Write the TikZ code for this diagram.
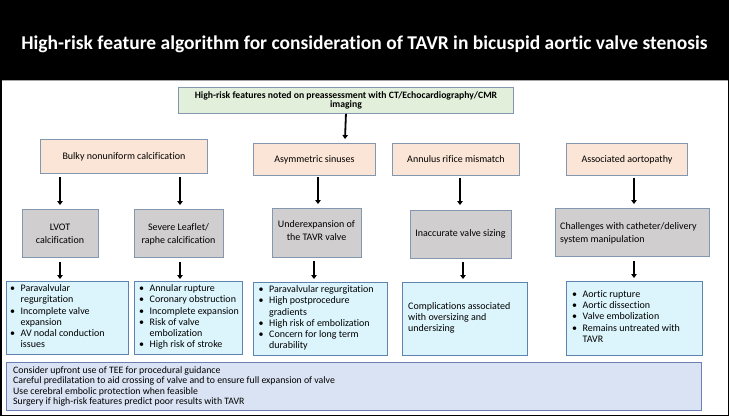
\documentclass[tikz,border=0pt]{standalone}
\usepackage{fontspec}
\setmainfont{Carlito}[Ligatures={NoCommon}]
\usetikzlibrary{arrows.meta}
\definecolor{greenfill}{HTML}{E2EFDA}
\definecolor{orangefill}{HTML}{FBE5D6}
\definecolor{grayfill}{HTML}{D0CECE}
\definecolor{cyanfill}{HTML}{DCF5FC}
\definecolor{lavfill}{HTML}{DAE3F3}
\definecolor{boxline}{HTML}{8497B0}
\definecolor{blueline}{HTML}{5E84AE}
\definecolor{lavline}{HTML}{6C80B5}
\tikzset{
  box/.style={draw=boxline, line width=0.9pt, anchor=north west, inner sep=0pt},
  topbox/.style={box, fill=greenfill},
  featbox/.style={box, fill=orangefill, font=\fontsize{10}{12}\selectfont},
  probbox/.style={box, fill=grayfill},
  compbox/.style={box, draw=blueline, fill=cyanfill},
  listtext/.style={anchor=west, inner sep=0pt, font=\fontsize{10}{11.3}\selectfont, align=left},
  line/.style={inner sep=0pt, anchor=mid, font=\fontsize{10}{12}\selectfont},
  lline/.style={line, anchor=mid west},
  midtext/.style={inner sep=0pt},
  botbox/.style={box, draw=lavline, fill=lavfill},
  flow/.style={line width=1.8pt, -{Triangle[width=5.5pt,length=4pt]}},
}
\newcommand{\bl}{\textbullet}
\begin{document}
\begin{tikzpicture}[x=1pt,y=-1pt]
\useasboundingbox (0,0) rectangle (729,416);
% header
\fill[black] (0,0) rectangle (729,80);
\node[text=white, font=\fontsize{19.5}{22}\selectfont\bfseries, inner sep=0pt] (title) at (364.5,44) {High-risk feature algorithm for consideration of TAVR in bicuspid aortic valve stenosis};
\draw[black, line width=1.5pt] (0.75,0.75) rectangle (728.25,415.25);
\draw[gray!70, line width=0.6pt] (1.5,80.5) -- (727.5,80.5);

% top box
\node[topbox, minimum width=335pt, minimum height=26pt] (top) at (178,87) {};
\node[midtext, font=\fontsize{9.7}{9.5}\selectfont\bfseries] (topt) at ([yshift=-0.5pt]top.center) {\begin{tabular}{@{}c@{}}High-risk features noted on preassessment with CT/Echocardiography/CMR\\imaging\end{tabular}};

% features
\node[featbox, minimum width=167pt, minimum height=34pt] (f1) at (40,139) {Bulky nonuniform calcification};
\node[featbox, minimum width=122pt, minimum height=32pt] (f2) at (253,143) {Asymmetric sinuses};
\node[featbox, minimum width=127pt, minimum height=32pt] (f3) at (392,143) {Annulus rifice mismatch};
\node[featbox, minimum width=121pt, minimum height=32pt] (f4) at (566,143) {Associated aortopathy};

% problems
\node[probbox, minimum width=76pt, minimum height=48pt] (p1) at (22,209) {};
\node[line] (p1a) at (60,228) {LVOT};
\node[line] (p1b) at (60,241) {calcification};
\node[probbox, minimum width=89pt, minimum height=48pt] (p2) at (134,209) {};
\node[line] (p2a) at (178.5,228) {Severe Leaflet/};
\node[line] (p2b) at (178.5,241) {raphe calcification};
\node[probbox, minimum width=89pt, minimum height=49pt] (p3) at (272,208) {};
\node[line] (p3a) at (316.5,225) {Underexpansion of};
\node[line] (p3b) at (316.5,238) {the TAVR valve};
\node[probbox, minimum width=101pt, minimum height=48pt] (p4) at (410,210) {};
\node[line] (p4a) at (460.5,234) {Inaccurate valve sizing};
\node[probbox, minimum width=154pt, minimum height=48pt] (p5) at (555,208) {};
\node[lline] (p5a) at (560,227) {Challenges with catheter/delivery};
\node[lline] (p5b) at (560,240) {system manipulation};

% complications
\node[compbox, minimum width=122pt, minimum height=73pt] (c1) at (6,281) {};
\node[listtext] (c1t) at ([xshift=4pt,yshift=0.5pt]c1.west) {\begin{tabular}{@{}l@{\hspace{5.5pt}}l@{}}
\bl & Paravalvular\\ & regurgitation\\ \bl & Incomplete valve\\ & expansion\\ \bl & AV nodal conduction\\ & issues\end{tabular}};
\node[compbox, minimum width=108pt, minimum height=73pt] (c2) at (134,281) {};
\node[listtext] (c2t) at ([xshift=5pt,yshift=0.5pt]c2.west) {\begin{tabular}{@{}l@{\hspace{5.5pt}}l@{}}
\bl & Annular rupture\\ \bl & Coronary obstruction\\ \bl & Incomplete expansion\\ \bl & Risk of valve\\ & embolization\\ \bl & High risk of stroke\end{tabular}};
\node[compbox, minimum width=134pt, minimum height=73pt] (c3) at (253,282) {};
\node[listtext] (c3t) at ([xshift=5.5pt,yshift=0.5pt]c3.west) {\begin{tabular}{@{}l@{\hspace{5.5pt}}l@{}}
\bl & Paravalvular regurgitation\\ \bl & High postprocedure\\ & gradients\\ \bl & High risk of embolization\\ \bl & Concern for long term\\ & durability\end{tabular}};
\node[compbox, minimum width=125pt, minimum height=73pt] (c4) at (402,282) {};
\node[listtext] (c4t) at ([xshift=6pt,yshift=1pt]c4.west) {Complications associated\\with oversizing and\\undersizing};
\node[compbox, minimum width=136pt, minimum height=74pt] (c5) at (566,281) {};
\node[listtext] (c5t) at ([xshift=6pt,yshift=1pt]c5.west) {\begin{tabular}{@{}l@{\hspace{5.5pt}}l@{}}
\bl & Aortic rupture\\ \bl & Aortic dissection\\ \bl & Valve embolization\\ \bl & Remains untreated with\\ & TAVR\end{tabular}};

% bottom box
\node[botbox, minimum width=695pt, minimum height=48pt] (bot) at (6,362) {};
\node[listtext, font=\fontsize{9.8}{10.3}\selectfont] (bott) at ([xshift=7pt]bot.west) {Consider upfront use of TEE for procedural guidance\\Careful predilatation to aid crossing of valve and to ensure full expansion of valve\\Use cerebral embolic protection when feasible\\Surgery if high-risk features predict poor results with TAVR};

% arrow end points
\coordinate (a0) at (345,139);
\coordinate (s1) at (60,177);  \coordinate (e1) at (60,205);
\coordinate (s2) at (180,177); \coordinate (e2) at (180,205);
\coordinate (s3) at (318,177); \coordinate (e3) at (318,204);
\coordinate (s4) at (460,178); \coordinate (e4) at (460,205);
\coordinate (s5) at (634,178); \coordinate (e5) at (634,204);
\coordinate (t1) at (60,262);  \coordinate (u1) at (60,279);
\coordinate (t2) at (180,262); \coordinate (u2) at (180,279);
\coordinate (t3) at (314,261); \coordinate (u3) at (314,279);
\coordinate (t4) at (463,262); \coordinate (u4) at (463,279);
\coordinate (t5) at (634,261); \coordinate (u5) at (634,278);

\draw[flow] (top.south) -- (a0);
\foreach \i in {1,...,5}{
  \draw[flow] (s\i) -- (e\i);
  \draw[flow] (t\i) -- (u\i);
}
\end{tikzpicture}
\end{document}
